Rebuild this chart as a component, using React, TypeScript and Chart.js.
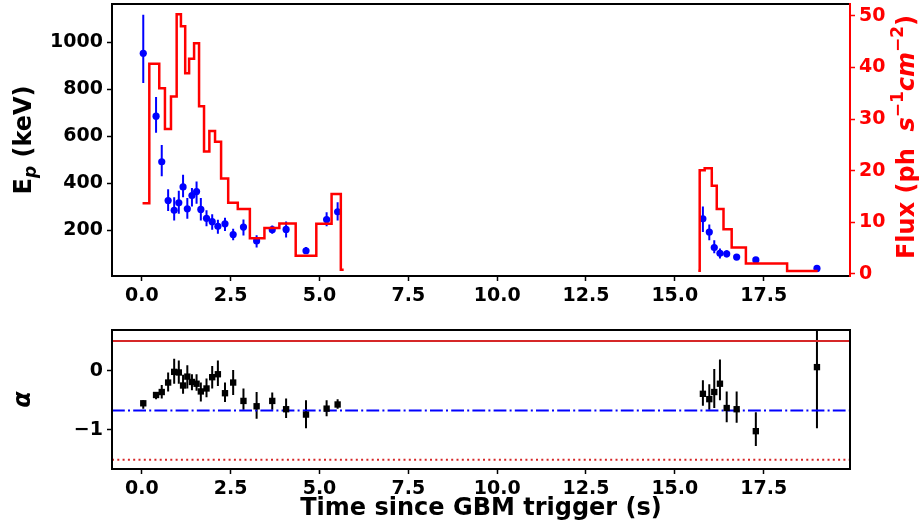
import React, { useEffect, useRef } from 'react';
import { Chart, registerables } from 'chart.js';

Chart.register(...registerables);

const FONT = '"DejaVu Sans", sans-serif';

// ---- data ----
const times = [0.04, 0.40, 0.56, 0.74, 0.91, 1.04, 1.16, 1.28, 1.41, 1.54, 1.66, 1.82, 1.98, 2.14, 2.34, 2.57, 2.86, 3.23, 3.67, 4.06, 4.62, 5.20, 5.51, 15.79, 15.97, 16.11, 16.27, 16.46, 16.74, 17.28, 19.00];
const epValues = [954, 686, 492, 327, 285, 317, 385, 292, 348, 365, 289, 251, 237, 217, 228, 182, 214, 155, 203, 204, 113, 246, 279, 249, 193, 127, 102, 100, 86, 74, 38];
const epHigh = [1118, 768, 563, 375, 341, 369, 437, 338, 380, 408, 338, 285, 268, 245, 254, 207, 246, 179, 221, 238, 129, 277, 320, 301, 225, 158, 123, 115, 94, 81, 48];
const epLow = [827, 615, 430, 282, 242, 271, 341, 249, 301, 313, 242, 217, 203, 186, 197, 158, 178, 127, 186, 169, 99, 217, 242, 193, 158, 102, 80, 85, 77, 65, 28];

const alphaValues = [-0.55, -0.41, -0.36, -0.20, -0.02, -0.03, -0.25, -0.10, -0.19, -0.22, -0.35, -0.30, -0.11, -0.06, -0.38, -0.20, -0.51, -0.60, -0.51, -0.65, -0.74, -0.64, -0.57, -0.39, -0.48, -0.36, -0.22, -0.63, -0.65, -1.02, 0.06];
const alphaHigh = [-0.50, -0.36, -0.24, -0.03, 0.20, 0.17, -0.07, 0.09, -0.06, -0.06, -0.20, -0.13, 0.08, 0.17, -0.20, 0.01, -0.30, -0.36, -0.37, -0.47, -0.50, -0.50, -0.48, -0.16, -0.23, 0.03, 0.19, -0.35, -0.35, -0.70, 1.00];
const alphaLow = [-0.64, -0.48, -0.47, -0.35, -0.22, -0.22, -0.39, -0.30, -0.33, -0.34, -0.52, -0.45, -0.30, -0.26, -0.53, -0.41, -0.66, -0.81, -0.66, -0.80, -0.97, -0.77, -0.64, -0.59, -0.66, -0.63, -0.50, -0.87, -0.88, -1.27, -0.97];

const fluxEdgesA = [0.02, 0.21, 0.49, 0.65, 0.82, 0.98, 1.10, 1.22, 1.33, 1.47, 1.61, 1.75, 1.90, 2.06, 2.23, 2.43, 2.70, 3.04, 3.45, 3.87, 4.33, 4.91, 5.34, 5.60, 5.68];
const fluxValuesA = [13.7, 40.7, 36.0, 28.1, 34.4, 50.3, 48.0, 38.9, 41.7, 44.7, 32.5, 23.7, 27.7, 25.6, 18.5, 13.8, 12.6, 6.9, 8.9, 9.75, 3.5, 9.7, 15.5, 0.8];
const fluxEdgesB = [15.66, 15.70, 15.84, 16.04, 16.18, 16.37, 16.60, 17.00, 18.16, 19.02];
const fluxValuesB = [0.63, 20.1, 20.5, 17.1, 12.6, 8.65, 5.1, 2.0, 0.58];

const alphaUpperRef = 0.5;
const alphaMidRef = -0.67;
const alphaLowerRef = -1.5;

const xTicks = [0, 2.5, 5, 7.5, 10, 12.5, 15, 17.5];
const epTicks = [200, 400, 600, 800, 1000];
const fluxTicks = [0, 10, 20, 30, 40, 50];
const alphaTicks = [-1, 0];

const X_MIN = -0.84;
const X_MAX = 19.93;

const xTitle = 'Time since GBM trigger (s)';

// ---- helpers ----
const tickFont = { family: FONT, size: 19, weight: 'bold' as const };

function stepPoints(edges: number[], values: number[]) {
  const pts = values.map((v, i) => ({ x: edges[i], y: v }));
  pts.push({ x: edges[edges.length - 1], y: values[values.length - 1] });
  return pts;
}

function tickSetter(values: number[]) {
  return (s: any) => {
    s.ticks = values.map((v) => ({ value: v }));
  };
}

function gridCfg(color: string) {
  return {
    display: true,
    drawOnChartArea: false,
    drawTicks: true,
    tickLength: 5,
    tickWidth: 1.5,
    tickColor: color,
  };
}

function errorBarPlugin(id: string, xs: number[], lows: number[], highs: number[], yId: string, color: string, width: number) {
  return {
    id,
    beforeDatasetsDraw(chart: any) {
      const { ctx, chartArea: a, scales } = chart;
      const sx = scales.x;
      const sy = scales[yId];
      ctx.save();
      ctx.beginPath();
      ctx.rect(a.left, a.top, a.right - a.left, a.bottom - a.top);
      ctx.clip();
      ctx.strokeStyle = color;
      ctx.lineWidth = width;
      ctx.beginPath();
      xs.forEach((t, i) => {
        const px = sx.getPixelForValue(t);
        ctx.moveTo(px, sy.getPixelForValue(lows[i]));
        ctx.lineTo(px, sy.getPixelForValue(highs[i]));
      });
      ctx.stroke();
      ctx.restore();
    },
  };
}

function framePlugin(rightColor: string) {
  return {
    id: 'frame',
    afterDatasetsDraw(chart: any) {
      const { ctx, chartArea: a } = chart;
      ctx.save();
      ctx.lineWidth = 2;
      ctx.lineCap = 'square';
      ctx.strokeStyle = '#000';
      ctx.beginPath();
      ctx.moveTo(a.right, a.top);
      ctx.lineTo(a.left, a.top);
      ctx.lineTo(a.left, a.bottom);
      ctx.lineTo(a.right, a.bottom);
      ctx.stroke();
      ctx.strokeStyle = rightColor;
      ctx.beginPath();
      ctx.moveTo(a.right, a.top);
      ctx.lineTo(a.right, a.bottom);
      ctx.stroke();
      ctx.restore();
    },
  };
}

type Seg = { text: string; italic?: boolean; scale?: number; rise?: number };

function drawRich(ctx: CanvasRenderingContext2D, segs: Seg[], size: number, color: string, baseX: number, centerY: number) {
  ctx.save();
  ctx.fillStyle = color;
  const fontFor = (s: Seg) => `${s.italic ? 'italic ' : ''}bold ${Math.round(size * (s.scale || 1))}px ${FONT}`;
  let total = 0;
  const widths = segs.map((s) => {
    ctx.font = fontFor(s);
    const w = ctx.measureText(s.text).width;
    total += w;
    return w;
  });
  ctx.translate(baseX, centerY);
  ctx.rotate(-Math.PI / 2);
  ctx.textBaseline = 'alphabetic';
  ctx.textAlign = 'left';
  let x = -total / 2;
  segs.forEach((s, i) => {
    ctx.font = fontFor(s);
    ctx.fillText(s.text, x, -(s.rise || 0) * size);
    x += widths[i];
  });
  ctx.restore();
}

const epTitle: Seg[] = [{ text: 'E' }, { text: 'p', italic: true, scale: 0.7, rise: -0.2 }, { text: ' (keV)' }];
const fluxTitle: Seg[] = [
  { text: 'Flux (ph  ' },
  { text: 's', italic: true },
  { text: '\u22121', italic: false, scale: 0.7, rise: 0.45 },
  { text: 'cm', italic: true },
  { text: '\u22122', scale: 0.7, rise: 0.45 },
  { text: ')' },
];

const titlesPlugin = {
  id: 'yTitles',
  afterDraw(chart: any) {
    const { ctx, chartArea: a } = chart;
    const cy = (a.top + a.bottom) / 2;
    drawRich(ctx, epTitle, 24, '#000', a.left - 81, cy);
    drawRich(ctx, fluxTitle, 24, '#ff0000', a.right + 64, cy - 3);
  },
};

function TopChart() {
  const ref = useRef<HTMLCanvasElement>(null);
  useEffect(() => {
    const chart = new Chart(ref.current as HTMLCanvasElement, {
      type: 'scatter',
      data: {
        datasets: [
          {
            label: 'Flux',
            data: stepPoints(fluxEdgesA, fluxValuesA),
            yAxisID: 'y1',
            showLine: true,
            stepped: true,
            borderColor: '#ff0000',
            borderWidth: 2.5,
            pointRadius: 0,
            fill: false,
          } as any,
          {
            label: 'Flux 2',
            data: stepPoints(fluxEdgesB, fluxValuesB),
            yAxisID: 'y1',
            showLine: true,
            stepped: true,
            borderColor: '#ff0000',
            borderWidth: 2.5,
            pointRadius: 0,
            fill: false,
          } as any,
          {
            label: 'Ep',
            data: times.map((t, i) => ({ x: t, y: epValues[i] })),
            yAxisID: 'y',
            pointRadius: 3.6,
            pointBackgroundColor: '#0000ff',
            pointBorderWidth: 0,
            borderColor: '#0000ff',
          } as any,
        ],
      },
      options: {
        responsive: false,
        animation: false,
        devicePixelRatio: 1,
        events: [],
        layout: { padding: { top: 2, left: 0, right: 0, bottom: 0 } },
        plugins: { legend: { display: false }, tooltip: { enabled: false } },
        scales: {
          x: {
            type: 'linear',
            min: X_MIN,
            max: X_MAX,
            afterBuildTicks: tickSetter(xTicks),
            afterFit: (s: any) => {
              s.height = 34;
              s.paddingLeft = 0;
              s.paddingRight = 0;
            },
            ticks: {
              font: tickFont,
              color: '#000',
              padding: 4,
              autoSkip: false,
              maxRotation: 0,
              callback: (v: any) => Number(v).toFixed(1),
            },
            grid: gridCfg('#000'),
            border: { display: false },
          },
          y: {
            type: 'linear',
            position: 'left',
            min: 5.6,
            max: 1163.6,
            afterBuildTicks: tickSetter(epTicks),
            afterFit: (s: any) => {
              s.width = 112;
              s.paddingTop = 0;
              s.paddingBottom = 0;
            },
            ticks: { font: tickFont, color: '#000', padding: 4, autoSkip: false, callback: (v: any) => String(v) },
            grid: gridCfg('#000'),
            border: { display: false },
          },
          y1: {
            type: 'linear',
            position: 'right',
            min: -0.4,
            max: 52.3,
            afterBuildTicks: tickSetter(fluxTicks),
            afterFit: (s: any) => {
              s.width = 71;
              s.paddingTop = 0;
              s.paddingBottom = 0;
            },
            ticks: { font: tickFont, color: '#ff0000', padding: 4, autoSkip: false, callback: (v: any) => String(v) },
            grid: gridCfg('#ff0000'),
            border: { display: false },
          },
        },
      } as any,
      plugins: [
        errorBarPlugin('epErr', times, epLow, epHigh, 'y', '#0000ff', 2),
        framePlugin('#ff0000'),
        titlesPlugin,
      ],
    });
    return () => chart.destroy();
  }, []);
  return <canvas ref={ref} width={921} height={310} style={{ position: 'absolute', left: 0, top: 0, display: 'block' }} />;
}

function BottomChart() {
  const ref = useRef<HTMLCanvasElement>(null);
  useEffect(() => {
    const refLine = (v: number) => [
      { x: X_MIN, y: v },
      { x: X_MAX, y: v },
    ];
    const chart = new Chart(ref.current as HTMLCanvasElement, {
      type: 'scatter',
      data: {
        datasets: [
          {
            label: 'alpha',
            data: times.map((t, i) => ({ x: t, y: alphaValues[i] })),
            pointStyle: 'rect',
            pointRadius: 4.5,
            pointBackgroundColor: '#000',
            pointBorderWidth: 0,
            borderColor: '#000',
          } as any,
          {
            label: 'upper',
            data: refLine(alphaUpperRef),
            showLine: true,
            borderColor: '#d62728',
            borderWidth: 2,
            pointRadius: 0,
          } as any,
          {
            label: 'mid',
            data: refLine(alphaMidRef),
            showLine: true,
            borderColor: '#0000ff',
            borderWidth: 2,
            borderDash: [12.8, 3.2, 2, 3.2],
            pointRadius: 0,
          } as any,
          {
            label: 'lower',
            data: refLine(alphaLowerRef),
            showLine: true,
            borderColor: '#d62728',
            borderWidth: 2,
            borderDash: [2, 3.3],
            pointRadius: 0,
          } as any,
        ],
      },
      options: {
        responsive: false,
        animation: false,
        devicePixelRatio: 1,
        events: [],
        layout: { padding: { top: 20, left: 0, right: 71, bottom: 0 } },
        plugins: { legend: { display: false }, tooltip: { enabled: false } },
        scales: {
          x: {
            type: 'linear',
            min: X_MIN,
            max: X_MAX,
            afterBuildTicks: tickSetter(xTicks),
            afterFit: (s: any) => {
              s.height = 62;
              s.paddingLeft = 0;
              s.paddingRight = 0;
            },
            ticks: {
              font: tickFont,
              color: '#000',
              padding: 4,
              autoSkip: false,
              maxRotation: 0,
              callback: (v: any) => Number(v).toFixed(1),
            },
            grid: gridCfg('#000'),
            border: { display: false },
            title: {
              display: true,
              text: xTitle,
              color: '#000',
              font: { family: FONT, size: 24, weight: 'bold' },
              padding: { top: 0, bottom: 8 },
            },
          },
          y: {
            type: 'linear',
            position: 'left',
            min: -1.658,
            max: 0.686,
            afterBuildTicks: tickSetter(alphaTicks),
            afterFit: (s: any) => {
              s.width = 112;
              s.paddingTop = 0;
              s.paddingBottom = 0;
            },
            ticks: {
              font: tickFont,
              color: '#000',
              padding: 4,
              autoSkip: false,
              callback: (v: any) => (Number(v) < 0 ? '\u2212' + Math.abs(Number(v)) : String(v)),
            },
            grid: gridCfg('#000'),
            border: { display: false },
            title: {
              display: true,
              text: '\u03b1',
              color: '#000',
              font: { family: FONT, size: 24, weight: 'bold', style: 'italic' },
              padding: { top: 9, bottom: 0 },
            },
          },
        },
      } as any,
      plugins: [errorBarPlugin('alphaErr', times, alphaLow, alphaHigh, 'y', '#000', 2), framePlugin('#000')],
    });
    return () => chart.destroy();
  }, []);
  return <canvas ref={ref} width={921} height={221} style={{ position: 'absolute', left: 0, top: 310, display: 'block' }} />;
}

export default function App() {
  return (
    <div style={{ position: 'absolute', left: 0, top: 0, width: 921, height: 531, background: '#fff' }}>
      <TopChart />
      <BottomChart />
    </div>
  );
}
